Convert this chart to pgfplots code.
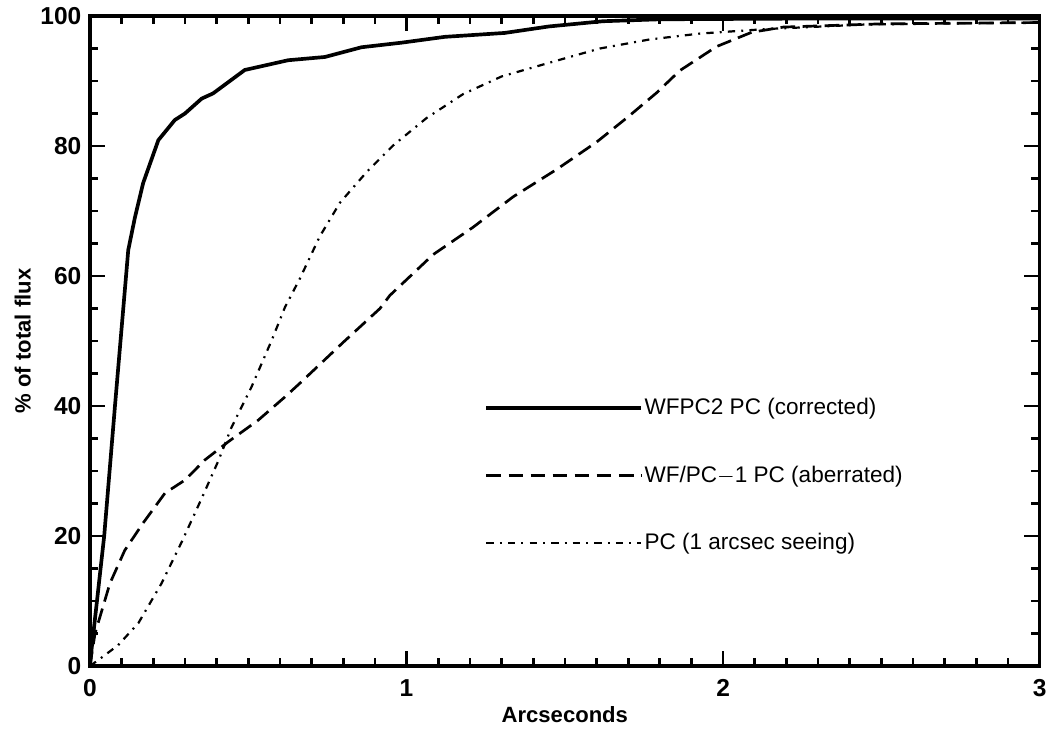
\documentclass[border=0pt]{standalone}
\usepackage{fontspec}
\setmainfont{Liberation Sans}
\usepackage{pgfplots}
\pgfplotsset{compat=1.18}
\begin{document}
\begin{tikzpicture}
\begin{axis}[
  name=ax,
  width=13.62cm, height=9.32cm, scale only axis,
  xmin=0, xmax=3, ymin=0, ymax=100,
  xtick={0,1,2,3}, ytick={0,20,40,60,80,100},
  minor x tick num=9, minor y tick num=3,
  tick align=inside,
  major tick length=0.22cm, minor tick length=0.12cm,
  axis line style={line width=1.4pt},
  every tick/.style={black, line width=1.1pt},
  /pgf/number format/assume math mode=true,
  tick label style={font=\bfseries\fontsize{10}{12}\selectfont},
  xticklabel style={yshift=-2pt},
  xlabel={Arcseconds}, ylabel={\% of total flux},
  xlabel shift=-3pt, ylabel shift=-3pt,
  label style={font=\bfseries\fontsize{9}{11}\selectfont},
  legend image code/.code={\draw[#1] (0cm,0cm) -- (2.22cm,0cm);},
  legend style={draw=none, fill=none, at={(axis cs:1.245,41.5)}, anchor=north west,
    row sep=0.64cm, font=\fontsize{9.2}{11}\selectfont, inner sep=0pt, column sep=0pt,
    nodes={inner sep=0.6pt}},
  legend cell align=left,
]
\addplot[black, line width=1.5pt] coordinates {
(0,0) (0.005,2.5) (0.045,20) (0.079,40) (0.10,52) (0.121,64) (0.142,69) (0.168,74.3)
(0.216,80.9) (0.268,84) (0.30,85) (0.353,87.3) (0.389,88.1) (0.489,91.7) (0.626,93.2)
(0.742,93.7) (0.858,95.2) (0.984,95.9) (1.121,96.8) (1.31,97.4) (1.45,98.4) (1.62,99.2)
(1.8,99.5) (2.2,99.6) (3,99.6)};
\addlegendentry{WFPC2 PC (corrected)}
\addplot[black, line width=1.1pt, dash pattern=on 6pt off 3pt] coordinates {
(0,0) (0.016,5) (0.063,12.7) (0.11,17.8) (0.168,22) (0.237,26.6) (0.30,28.6) (0.363,31.7)
(0.437,34.5) (0.531,37.8) (0.616,41.4) (0.663,43.5) (0.80,49.8) (0.916,55) (0.947,57)
(1.084,63.3) (1.21,67.5) (1.337,72.2) (1.474,76.4) (1.60,80.6) (1.70,84.5) (1.79,88.2)
(1.863,91.6) (1.979,95.3) (2.09,97.5) (2.19,98.3) (2.5,98.8) (3,99)};
\addlegendentry{WF/PC$-$1 PC (aberrated)}
\addplot[black, line width=0.9pt, dash pattern=on 3pt off 2.5pt on 0.8pt off 2.5pt] coordinates {
(0,0) (0.026,0.9) (0.089,3.2) (0.153,6.6) (0.226,12.7) (0.29,19.1) (0.353,25.8) (0.405,31.5)
(0.447,36.7) (0.51,42.9) (0.574,50.1) (0.616,55.2) (0.663,59.6) (0.726,66.1) (0.79,71.3)
(0.874,76) (0.958,80.1) (1.063,84.3) (1.179,88) (1.30,90.7) (1.45,92.8) (1.61,95)
(1.768,96.4) (1.926,97.3) (2.137,98) (2.45,98.7) (3,99)};
\addlegendentry{PC (1 arcsec seeing)}
\end{axis}
\pgfresetboundingbox
\path ([shift={(-1.29cm,-0.92cm)}]ax.south west) rectangle ([shift={(0.09cm,0.23cm)}]ax.north east);
\end{tikzpicture}
\end{document}
